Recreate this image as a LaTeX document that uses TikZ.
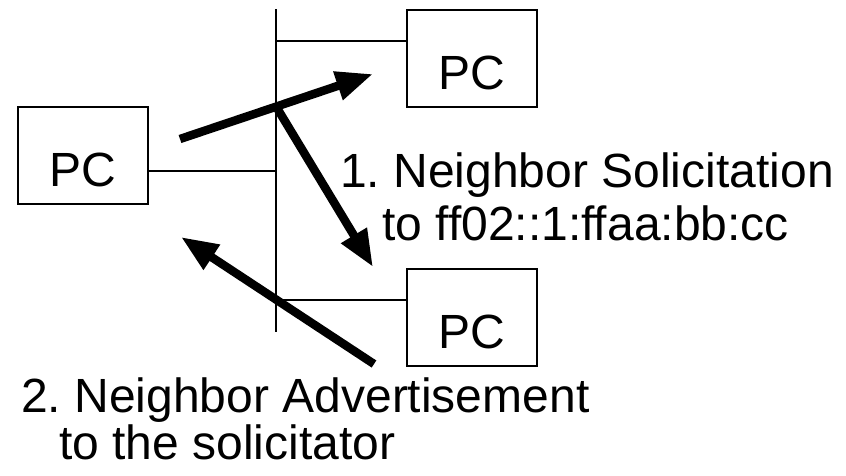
\documentclass[tikz,border=0pt]{standalone}
\usepackage{fontspec}
\setmainfont{Liberation Sans}
\usetikzlibrary{arrows.meta,calc}
\frenchspacing
\tikzset{
  pcbox/.style={draw, line width=1.8pt, inner sep=0pt, minimum width=130pt,
    text height=80pt, text depth=17pt, align=center, font=\fontsize{48}{58}\selectfont},
  wire/.style={line width=1.8pt},
  bigarrow/.style={line width=8.5pt, -{Triangle[length=37pt,width=28pt]}},
  lbl/.style={inner sep=0pt, anchor=base west, font=\fontsize{48}{58}\selectfont}
}
\begin{document}
\begin{tikzpicture}[x=1pt,y=-1pt]
\useasboundingbox (0,0) rectangle (846,475);
% PCs
\node[pcbox, anchor=north west] (pcL) at (17,106) {PC};
\node[pcbox, anchor=north west] (pcT) at (406,9) {PC};
\node[pcbox, anchor=north west] (pcB) at (406,268) {PC};
% bus
\coordinate (busTop) at (276,9);
\coordinate (busBot) at (276,332);
\draw[wire] (busTop) -- (busBot);
\coordinate (jT) at (276,41);
\coordinate (jL) at (276,171);
\coordinate (jB) at (276,300);
\draw[wire] (jT) -- (jT -| pcT.west);
\draw[wire] (jL) -- (jL -| pcL.east);
\draw[wire] (jB) -- (jB -| pcB.west);
% arrows
\coordinate (a1s) at (180,139);
\coordinate (a1e) at (373,74);
\coordinate (a2s) at (277,108);
\coordinate (a2e) at (373,267);
\coordinate (a3s) at (374,364);
\coordinate (a3e) at (181,237);
\draw[bigarrow] (a1s) -- (a1e);
\draw[bigarrow] (a2s) -- (a2e);
\draw[bigarrow] (a3s) -- (a3e);
% labels
\node[lbl] (t1) at (340,187) {1. Neighbor Solicitation};
\node[lbl] (t2) at (382,240) {to ff02::1:ffaa:bb:cc};
\node[lbl] (t3) at (21,412) {2. Neighbor Advertisement};
\node[lbl] (t4) at (59,459) {to the solicitator};
\end{tikzpicture}
\end{document}
